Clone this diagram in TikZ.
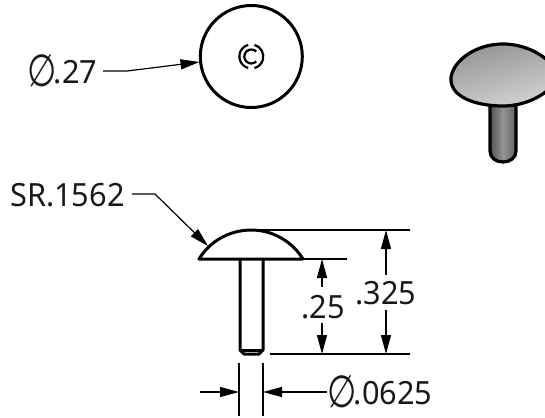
\documentclass[tikz,border=0pt]{standalone}
\usepackage{fontspec}
\setmainfont[FakeStretch=0.96]{Noto Sans}
\newfontfamily\symf{DejaVu Sans}
\usetikzlibrary{arrows.meta}
\newcommand{\diam}{\raisebox{-3.5pt}{\scalebox{1.05}[1.4]{\symf ∅}}\kern-2.5pt}
\tikzset{
  x=1pt,y=-1pt,
  part/.style={line width=3pt,line join=round},
  dimline/.style={line width=1.2pt},
  tip/.style={-{Triangle[length=19pt,width=10pt]}},
  lbl/.style={font=\fontsize{32}{32}\selectfont,inner sep=0pt,text=black!90}
}
\begin{document}
\begin{tikzpicture}
\useasboundingbox (0,0) rectangle (545,417);
% top view
\node[part,draw,circle,minimum size=102pt,inner sep=0pt] (head) at (251.3,56.5) {};
\draw[line width=2.2pt] (251.3,56.5) ++(45:7) arc (45:315:7);
\draw[line width=2.2pt] (251.3,56.5) ++(105:12) arc (105:255:12);
\draw[line width=2.2pt] (251.3,56.5) ++(-75:12) arc (-75:75:12);
\node[lbl,anchor=west] (dtop) at (27,71) {\diam.27};
\coordinate (k0) at (103,71);
\coordinate (k1) at (127,71);
\coordinate (k1t) at (199.5,62);
\draw[dimline,tip] (k0) -- (k1) -- (k1t);
% iso view
\path[left color=black!68,right color=black!62,middle color=black!42]
  (490,100) -- (516,100) -- (516,151) .. controls (516,158) and (510,162) .. (503,162) .. controls (496,162) and (490,158) .. (490,151) -- cycle;
\draw[part,line width=3.2pt] (490,105) -- (490,151) .. controls (490,158) and (496,162) .. (503,162) .. controls (510,162) and (516,158) .. (516,151) -- (516,105);
\path[part,line width=3.2pt,draw=black,left color=black!42,middle color=black!20,right color=black!17,shading angle=15]
  (451,77) .. controls (454,60) and (476,44) .. (503,44) .. controls (525,44) and (548,55) .. (560,75) .. controls (550,95) and (525,106) .. (503,106) .. controls (478,106) and (449,98) .. (451,77) -- cycle;
% front view
\draw[part] (199,259) arc[start angle=211.7,end angle=328.3,radius=61.1] -- cycle;
\draw[part] (240,259) -- (240,350) -- (244,354) -- (259,354) -- (263,350) -- (263,259);
\draw[part] (240,350) -- (263,350);
\coordinate (tt) at (251,230);
\coordinate (ttr) at (410,230);
\coordinate (mm) at (303,259);
\coordinate (mmr) at (347,259);
\coordinate (bb) at (270,354);
\coordinate (bbr) at (410,354);
\draw[dimline] (tt) -- (ttr) (mm) -- (mmr) (bb) -- (bbr);
\node[lbl] (d25) at (323,307) {.25};
\node[lbl] (d325) at (386,293) {.325};
\coordinate (a1) at (322,287); \coordinate (a1t) at (322,259);
\coordinate (a2) at (322,323); \coordinate (a2t) at (322,354);
\coordinate (a3) at (386,275); \coordinate (a3t) at (386,230);
\coordinate (a4) at (386,310); \coordinate (a4t) at (386,354);
\draw[dimline,tip] (a1) -- (a1t);
\draw[dimline,tip] (a2) -- (a2t);
\draw[dimline,tip] (a3) -- (a3t);
\draw[dimline,tip] (a4) -- (a4t);
% SR
\node[lbl,anchor=west] (sr) at (10,195) {SR.1562};
\coordinate (k2s) at (132,194);
\coordinate (k2) at (155,194);
\coordinate (k2t) at (208,246);
\draw[dimline,tip] (k2s) -- (k2) -- (k2t);
% bottom dim
\coordinate (e1a) at (239,363); \coordinate (e1b) at (239,416);
\coordinate (e2a) at (263,363); \coordinate (e2b) at (263,416);
\draw[dimline] (e1a) -- (e1b) (e2a) -- (e2b);
\node[lbl,anchor=west] (dbot) at (327,392) {\diam.0625};
\coordinate (l0) at (200,392);
\coordinate (l1) at (239,392);
\coordinate (r1) at (263,392);
\draw[dimline,tip] (l0) -- (l1);
\draw[dimline,tip] (dbot.west) -- (r1);
\end{tikzpicture}
\end{document}
